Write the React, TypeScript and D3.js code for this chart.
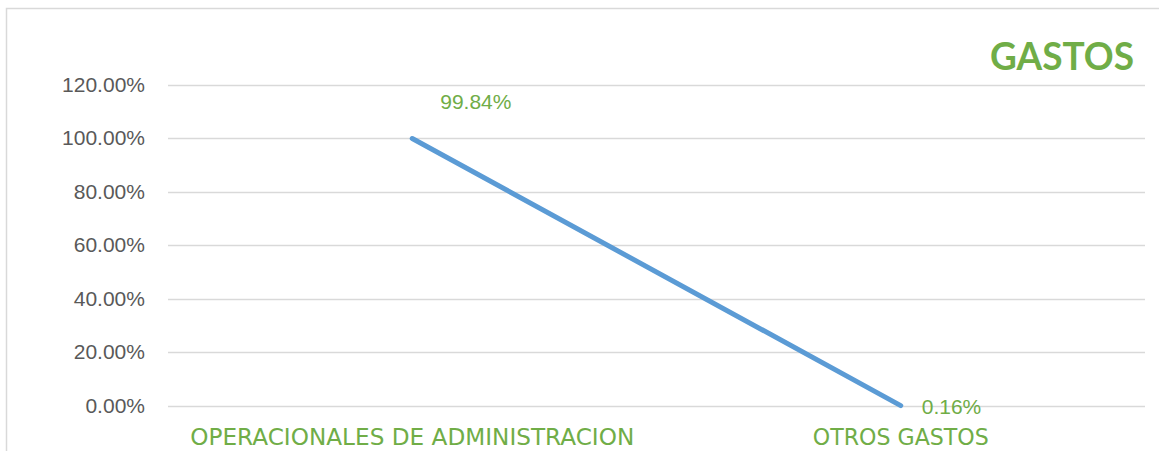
import * as d3 from 'd3';

// datos
const categorias = ['OPERACIONALES DE ADMINISTRACION', 'OTROS GASTOS'];
const valores = [0.9984, 0.0016];
const etiquetas = ['99.84%', '0.16%'];
const ticksY = [0, 0.2, 0.4, 0.6, 0.8, 1.0, 1.2];

const W = 1159;
const H = 451;
const plot = { left: 168, right: 1145, top: 84.5, bottom: 406 };

const verde = '#70AD47';
const azul = '#5B9BD5';
const gris = '#D9D9D9';

export default function App() {
  const x = d3.scaleBand<string>().domain(categorias).range([plot.left, plot.right]);
  const y = d3.scaleLinear().domain([0, 1.2]).range([plot.bottom, plot.top]);
  const cx = (c: string) => (x(c) ?? 0) + x.bandwidth() / 2;

  const linea = d3.line<number>()
    .x((_, i) => cx(categorias[i]))
    .y(d => y(d));

  // desplazamientos de las etiquetas de datos (como en Excel)
  const offs = [{ dx: 28, dy: -30 }, { dx: 21, dy: 8 }];
  const anchos = [444, 176];

  return (
    <svg width={W} height={H} style={{ position: 'absolute', left: 0, top: 0, display: 'block', background: '#fff' }}>
      <rect x={6.5} y={8.5} width={W + 10} height={H + 10} fill="#fff" stroke={gris} strokeWidth={1.5} />

      {ticksY.map(t => (
        <g key={t}>
          <line x1={plot.left} x2={plot.right} y1={Math.round(y(t)) + 0.5} y2={Math.round(y(t)) + 0.5} stroke={gris} strokeWidth={1.5} />
          <text x={145} y={y(t) + 7} textAnchor="end" fontFamily="'Liberation Sans', Arial, sans-serif" fontSize={21} fill="#595959">
            {(t * 100).toFixed(2)}%
          </text>
        </g>
      ))}

      <path d={linea(valores) ?? ''} fill="none" stroke={azul} strokeWidth={5} strokeLinecap="round" />

      {valores.map((v, i) => (
        <text key={i} x={cx(categorias[i]) + offs[i].dx} y={y(v) + offs[i].dy}
          fontFamily="'Liberation Sans', Arial, sans-serif" fontSize={21} fill={verde}>
          {etiquetas[i]}
        </text>
      ))}

      {categorias.map((c, i) => (
        <text key={c} x={cx(c)} y={445} textAnchor="middle" fontFamily="'DejaVu Sans', sans-serif"
          fontSize={23} fill={verde} textLength={anchos[i]} lengthAdjust="spacingAndGlyphs">
          {c}
        </text>
      ))}

      <text x={1134} y={70} textAnchor="end" fontFamily="Lato, 'DejaVu Sans', sans-serif" fontWeight="bold"
        fontSize={38} fill={verde} textLength={144} lengthAdjust="spacingAndGlyphs">
        GASTOS
      </text>
    </svg>
  );
}
